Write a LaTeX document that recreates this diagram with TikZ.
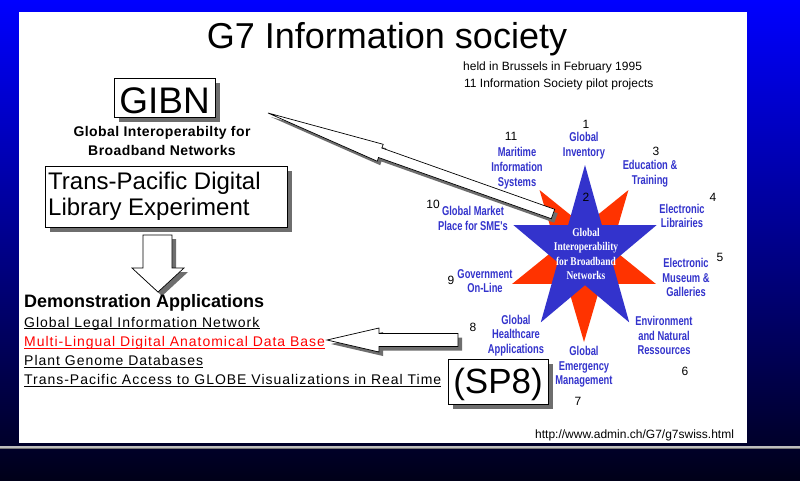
\documentclass[tikz,border=0pt]{standalone}
\usepackage{fontspec}
\setmainfont{Liberation Sans}
\newfontfamily\narrowfont{Liberation Sans}[FakeStretch=0.73]
\newfontfamily\serifnarrow{Liberation Serif}[FakeStretch=0.8]
\newfontfamily\spacedfont{Liberation Sans}[LetterSpace=7]
\newfontfamily\spacedbold{Liberation Sans}[LetterSpace=3]
\usetikzlibrary{shadows,calc}
\definecolor{starblue}{RGB}{51,51,204}
\definecolor{starred}{RGB}{255,51,0}
\definecolor{shgray}{RGB}{110,110,110}
\definecolor{linkred}{RGB}{255,0,0}
\definecolor{bgtop}{RGB}{0,0,255}
\definecolor{bgbot}{RGB}{0,0,25}
\definecolor{linelight}{RGB}{190,190,190}
\definecolor{linedark}{RGB}{120,120,120}
\newcommand\fsz[2]{\fontsize{#1}{#2}\selectfont}
\newcommand\gibnarrowpath{(268,113) -- (383.2,144.3) -- (381.8,148.0) -- (554.7,209.3) -- (551.3,218.7) -- (378.5,157.5) -- (377.2,161.2) -- cycle}
\newcommand\downarrowpath{(143,235) -- (172,235) -- (172,268) -- (184,268) -- (158,292) -- (132,268) -- (143,268) -- cycle}
\newcommand\leftarrowpath{(327,340) -- (379,328) -- (379,333.5) -- (458,333.5) -- (458,346.5) -- (379,346.5) -- (379,352) -- cycle}
\begin{document}
\begin{tikzpicture}[x=1pt,y=-1pt,
  boxw/.style={draw=black, line width=0.9pt, fill=white, inner sep=0pt,
    drop shadow={shadow xshift=5pt, shadow yshift=-5pt, fill=shgray, opacity=1}},
  lbl/.style={text=starblue, font=\narrowfont\bfseries\fsz{12.8}{14.7}, align=center, inner sep=0pt},
  num/.style={font=\fsz{12}{14}, inner sep=0pt},
  item/.style={anchor=base west, inner sep=0pt, font=\spacedfont\fsz{14}{16}},
  ul/.style={line width=0.8pt},
  arrowbody/.style={fill=white, draw=black, line width=0.7pt, line join=miter},
  arrowshadow/.style={fill=shgray}]
\useasboundingbox (0,0) rectangle (800,480);
% background
\shade[top color=bgtop, bottom color=bgbot] (0,0) rectangle (800,480);
\fill[white] (19,12) rectangle (747,443);
\fill[linelight] (0,445.5) rectangle (800,447.5);
\fill[linedark] (0,447.5) rectangle (800,449);
% title and notes
\node[font=\fsz{36}{40}, anchor=base, inner sep=0pt] (title) at (387,48) {G7 Information society};
\node[font=\fsz{12}{14}, anchor=base west, inner sep=0pt] (held) at (463,70.3) {held in Brussels in February 1995};
\node[font=\fsz{12}{14}, anchor=base west, inner sep=0pt] (pilot) at (464,87.3) {11 Information Society pilot projects};
% stars
\fill[starred, shift={(584,258)}, xscale=0.9] (90:84) -- (126:32.1) -- (162:84) -- (198:32.1) -- (234:84) -- (270:32.1) -- (306:84) -- (342:32.1) -- (18:84) -- (54:32.1) -- cycle;
\fill[starblue, shift={(585,252)}, xscale=0.865] (-90:87) -- (-54:33.2) -- (-18:87) -- (18:33.2) -- (54:87) -- (90:33.2) -- (126:87) -- (162:33.2) -- (198:87) -- (234:33.2) -- cycle;
\node[font=\serifnarrow\bfseries\fsz{11.8}{14.5}, text=white, align=center, inner sep=0pt] (core) at (586,254) {Global\\Interoperability\\for Broadband\\Networks};
% project labels
\node[lbl] (l1) at (584,145.5) {Global\\Inventory};
\node[lbl] (l3) at (650,174) {Education \&\\Training};
\node[lbl] (l4) at (682,216) {Electronic\\Librairies};
\node[lbl] (l5) at (686,277.5) {Electronic\\Museum \&\\Galleries};
\node[lbl] (l6) at (664,335.5) {Environment\\and Natural\\Ressources};
\node[lbl] (l7) at (584,367) {Global\\Emergency\\Management};
\node[lbl] (l8) at (516,335.5) {Global\\Healthcare\\Applications};
\node[lbl] (l9) at (485,281) {Government\\On-Line};
\node[lbl] (l10) at (473,218.5) {Global Market\\Place for SME's};
\node[lbl] (l11) at (517,168) {Maritime\\Information\\Systems};
% numbers
\node[num] (n1) at (586,124) {1};
\node[num] (n2) at (586,197) {2};
\node[num] (n3) at (656,151) {3};
\node[num] (n4) at (713,197) {4};
\node[num] (n5) at (720,257) {5};
\node[num] (n6) at (685,371) {6};
\node[num] (n7) at (578,401) {7};
\node[num] (n8) at (473,327) {8};
\node[num] (n9) at (451,280) {9};
\node[num] (n10) at (433,204) {10};
\node[num] (n11) at (511,136) {11};
% block arrows
\fill[arrowshadow, shift={(3,4)}] \gibnarrowpath;
\filldraw[arrowbody] \gibnarrowpath;
\fill[arrowshadow, shift={(4,4)}] \downarrowpath;
\filldraw[arrowbody] \downarrowpath;
\fill[arrowshadow, shift={(4,4)}] \leftarrowpath;
\filldraw[arrowbody] \leftarrowpath;
% boxes
\node[boxw, minimum width=101pt, minimum height=39pt] (gibnbox) at (164.5,97.5) {};
\node[font=\fsz{37}{40}, anchor=base, inner sep=0pt] (gibn) at (164.5,113) {GIBN};
\node[font=\spacedbold\bfseries\fsz{14}{16}, anchor=base, inner sep=0pt] (gsub1) at (162,136) {Global Interoperabilty for};
\node[font=\spacedbold\bfseries\fsz{14}{16}, anchor=base, inner sep=0pt] (gsub2) at (162,155) {Broadband Networks};
\node[boxw, minimum width=242pt, minimum height=61pt] (tpbox) at (166,196.5) {};
\node[font=\fsz{24}{26}, anchor=base west, inner sep=0pt] (tp1) at (48,189.5) {Trans-Pacific Digital};
\node[font=\fsz{24}{26}, anchor=base west, inner sep=0pt] (tp2) at (48,215.5) {Library Experiment};
\node[boxw, minimum width=100pt, minimum height=45pt] (spbox) at (498,381.5) {};
\node[font=\fsz{35}{38}, anchor=base, inner sep=0pt] (sp8) at (498,393.5) {(SP8)};
% demonstration list
\node[font=\bfseries\fsz{18}{20}, anchor=base west, inner sep=0pt] (demo) at (24,307.5) {Demonstration Applications};
\node[item] (d1) at (24,327) {Global Legal Information Network};
\node[item, text=linkred] (d2) at (24,346.5) {Multi-Lingual Digital Anatomical Data Base};
\node[item] (d3) at (24,365.5) {Plant Genome Databases};
\node[item] (d4) at (24,384.5) {Trans-Pacific Access to GLOBE Visualizations in Real Time};
\draw[ul] ([yshift=-1.5pt]d1.base west) -- ([yshift=-1.5pt]d1.base east);
\draw[ul, linkred] ([yshift=-1.5pt]d2.base west) -- ([yshift=-1.5pt]d2.base east);
\draw[ul] ([yshift=-1.5pt]d3.base west) -- ([yshift=-1.5pt]d3.base east);
\draw[ul] ([yshift=-1.5pt]d4.base west) -- ([yshift=-1.5pt]d4.base east);
% url
\node[font=\fsz{12}{14}, anchor=base west, inner sep=0pt] (url) at (535,438.5) {http://www.admin.ch/G7/g7swiss.html};
\end{tikzpicture}
\end{document}
